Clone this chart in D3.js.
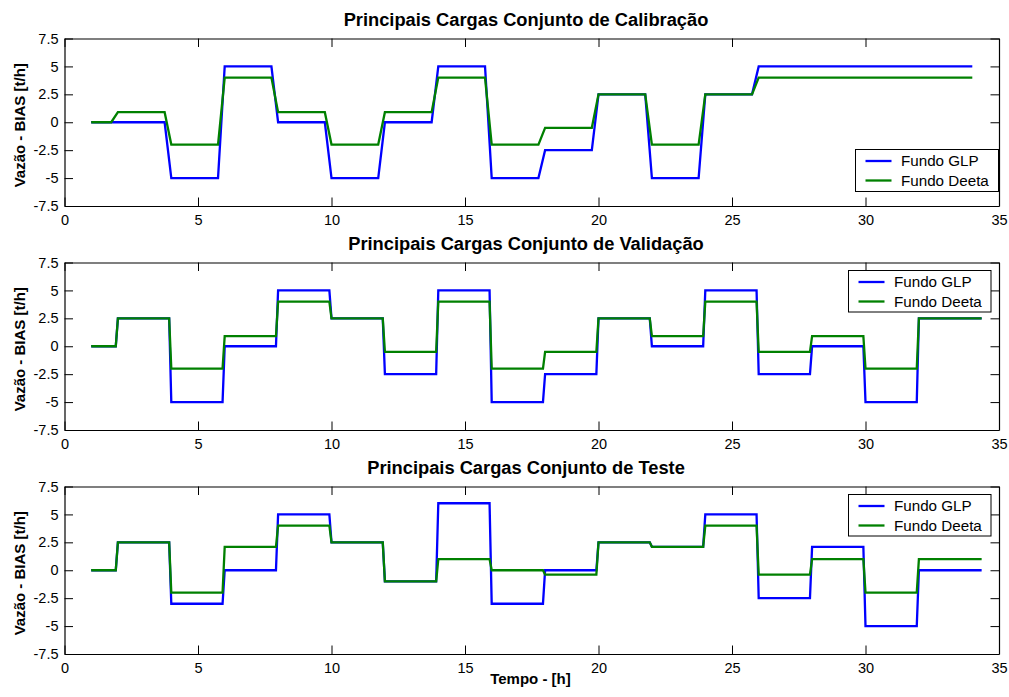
<!DOCTYPE html>
<html>
<head>
<meta charset="utf-8">
<script src="https://cdn.jsdelivr.net/npm/d3@7"></script>
<style>
  body { margin: 0; background: #fff; }
  text { font-family: Arial, "Liberation Sans", sans-serif; }
</style>
</head>
<body>
<svg id="chart" width="1009" height="697"></svg>
<script>
// ---------- Data ----------
const titles = [
  "Principais Cargas Conjunto de Calibração",
  "Principais Cargas Conjunto de Validação",
  "Principais Cargas Conjunto de Teste"
];
const seriesNames = ["Fundo GLP", "Fundo Deeta"];

// segment start times [h]
const calibStarts = [1, 2, 4, 6, 8, 10, 12, 14, 16, 18, 20, 22, 24, 26];
const calibEnd = 34;
const calibGLP   = [0, 0, -5, 5, 0, -5, 0, 5, -5, -2.5, 2.5, -5, 2.5, 5];
const calibDeeta = [0, 0.9, -2, 4, 0.9, -2, 0.9, 4, -2, -0.5, 2.5, -2, 2.5, 4];

const validStarts = [1, 2, 4, 6, 8, 10, 12, 14, 16, 18, 20, 22, 24, 26, 28, 30, 32];
const validEnd = 34.35;
const validGLP   = [0, 2.5, -5, 0, 5, 2.5, -2.5, 5, -5, -2.5, 2.5, 0, 5, -2.5, 0, -5, 2.5];
const validDeeta = [0, 2.5, -2, 0.9, 4, 2.5, -0.5, 4, -2, -0.5, 2.5, 0.9, 4, -0.5, 0.9, -2, 2.5];

const testStarts = [1, 2, 4, 6, 8, 10, 12, 14, 16, 18, 20, 22, 24, 26, 28, 30, 32];
const testEnd = 34.35;
const testGLP   = [0, 2.5, -3, 0, 5, 2.5, -1, 6, -3, 0, 2.5, 2.1, 5, -2.5, 2.1, -5, 0];
const testDeeta = [0, 2.5, -2, 2.1, 4, 2.5, -1, 1, 0, -0.4, 2.5, 2.1, 4, -0.4, 1, -2, 1];

// transition duration [h] per panel (sampling of the step changes)
const rampWidths = [0.25, 0.08, 0.08];

const xTicks = [0, 5, 10, 15, 20, 25, 30, 35];
const yTicks = [-7.5, -5, -2.5, 0, 2.5, 5, 7.5];
const yTickLabels = ["-7.5", "-5", "-2.5", "0", "2.5", "5", "7.5"];

// ---------- Layout ----------
const colors = ["#0000ff", "#008000"];
const svg = d3.select("#chart");
const left = 64.5, right = 999;
const panelTops = [38.5, 262.5, 486.5];
const panelH = 167.5;
const legendBoxes = [
  {x: 855.5, y: 149.5, w: 143, h: 42},
  {x: 848.5, y: 270.5, w: 142.5, h: 41.5},
  {x: 848.5, y: 494.5, w: 142.5, h: 41.5}
];

const panels = [
  {starts: calibStarts, end: calibEnd, series: [calibGLP, calibDeeta]},
  {starts: validStarts, end: validEnd, series: [validGLP, validDeeta]},
  {starts: testStarts, end: testEnd, series: [testGLP, testDeeta]}
];

function stepPoints(starts, end, levels, ramp) {
  const pts = [];
  for (let i = 0; i < starts.length; i++) {
    const s = starts[i];
    const e = i + 1 < starts.length ? starts[i + 1] - ramp : end;
    pts.push([s, levels[i]]);
    pts.push([e, levels[i]]);
  }
  return pts;
}

const x = d3.scaleLinear().domain([0, 35]).range([left, right]);
const FONT = "Arial, 'Liberation Sans', sans-serif";

panels.forEach((p, pi) => {
  const top = panelTops[pi];
  const bottom = top + panelH;
  const y = d3.scaleLinear().domain([-7.5, 7.5]).range([bottom, top]);
  const g = svg.append("g");

  // title
  g.append("text")
    .attr("x", 526)
    .attr("y", top - 13)
    .attr("text-anchor", "middle")
    .attr("font-size", 18.3)
    .attr("font-weight", "bold")
    .text(titles[pi]);

  // y label
  g.append("text")
    .attr("transform", `translate(24.5,${(top + bottom) / 2 + 3}) rotate(-90)`)
    .attr("text-anchor", "middle")
    .attr("font-size", 15)
    .attr("font-weight", "bold")
    .text("Vazão - BIAS [t/h]");

  // data lines
  const line = d3.line().x(d => x(d[0])).y(d => y(d[1]));
  p.series.forEach((vals, si) => {
    g.append("path")
      .datum(stepPoints(p.starts, p.end, vals, rampWidths[pi]))
      .attr("d", line)
      .attr("fill", "none")
      .attr("stroke", colors[si])
      .attr("stroke-width", 2.3)
      .attr("stroke-linejoin", "miter");
  });

  // axes (MATLAB box with inward ticks)
  const tl = 8.5;
  const axB = d3.axisBottom(x).tickValues(xTicks).tickSizeInner(-tl).tickSizeOuter(0).tickPadding(8.5);
  const axT = d3.axisTop(x).tickValues(xTicks).tickSizeInner(-tl).tickSizeOuter(0).tickFormat("");
  const axL = d3.axisLeft(y).tickValues(yTicks).tickSizeInner(-tl).tickSizeOuter(0).tickPadding(6)
    .tickFormat(d => yTickLabels[yTicks.indexOf(d)]);
  const axR = d3.axisRight(y).tickValues(yTicks).tickSizeInner(-tl).tickSizeOuter(0).tickFormat("");

  [[axB, `translate(0,${bottom})`], [axT, `translate(0,${top})`],
   [axL, `translate(${left},0)`], [axR, `translate(${right},0)`]].forEach(([ax, tr]) => {
    const a = g.append("g").attr("transform", tr).call(ax);
    a.selectAll("path.domain").attr("stroke", "#000").attr("stroke-width", 1.2);
    a.selectAll(".tick line").attr("stroke", "#000").attr("stroke-width", 1);
    a.selectAll(".tick text").attr("font-size", 14.5).attr("fill", "#000")
      .attr("font-family", FONT);
  });

  // legend
  const lb = legendBoxes[pi];
  const lg = g.append("g");
  lg.append("rect").attr("x", lb.x).attr("y", lb.y).attr("width", lb.w).attr("height", lb.h)
    .attr("fill", "#fff").attr("stroke", "#000").attr("stroke-width", 1);
  seriesNames.forEach((n, si) => {
    const ry = lb.y + 11.5 + si * 19.5;
    lg.append("line").attr("x1", lb.x + 10).attr("x2", lb.x + 36).attr("y1", ry).attr("y2", ry)
      .attr("stroke", colors[si]).attr("stroke-width", 2.3);
    lg.append("text").attr("x", lb.x + 45.5).attr("y", ry + 5.3)
      .attr("font-size", 15.2).text(n);
  });
});

// x label
svg.append("text")
  .attr("x", 530.5)
  .attr("y", 684)
  .attr("text-anchor", "middle")
  .attr("font-size", 15)
  .attr("font-weight", "bold")
  .text("Tempo - [h]");
</script>
</body>
</html>
